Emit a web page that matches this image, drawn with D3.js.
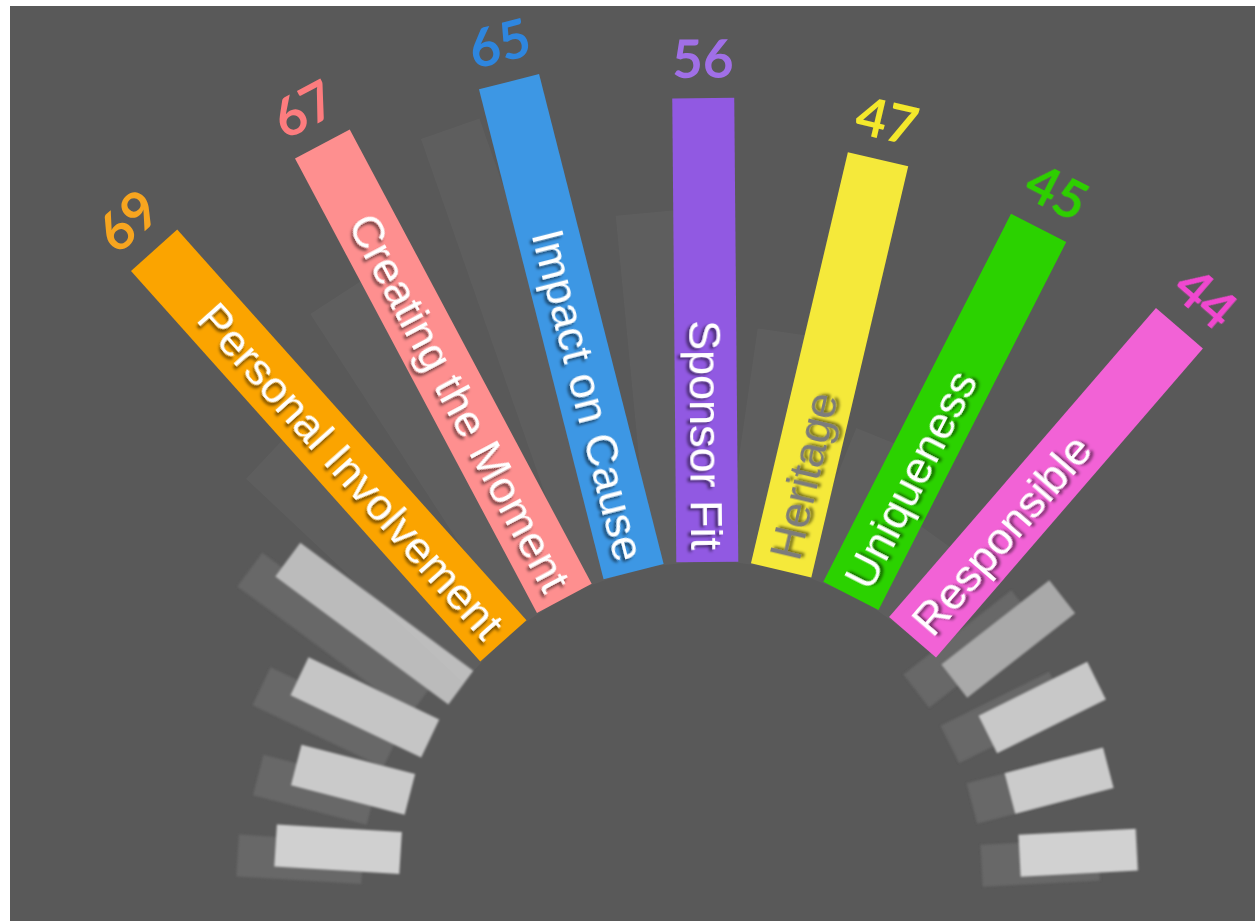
<!DOCTYPE html>
<html>
<head>
<meta charset="utf-8">
<script src="https://cdn.jsdelivr.net/npm/d3@7"></script>
<style>
  html, body { margin: 0; padding: 0; background: #ffffff; }
  svg { display: block; }
</style>
</head>
<body>
<svg id="chart" width="1255" height="923"></svg>
<script>
// ---- data ----
const categories = ["Personal Involvement", "Creating the Moment", "Impact on Cause", "Sponsor Fit", "Heritage", "Uniqueness", "Responsible"];
const values = [69, 67, 65, 56, 47, 45, 44];
const valueLabels = ["69", "67", "65", "56", "47", "45", "44"];
const barColors = ["#fba400", "#fe8f8f", "#3d97e4", "#9159e2", "#f5e93a", "#2bd200", "#f262d6"];
const numberColors = ["#f7a51f", "#fd7c7e", "#2e86df", "#a06fe7", "#f4e82b", "#2ecf00", "#f047cf"];
const labelColors = ["#ffffff", "#ffffff", "#ffffff", "#ffffff", "#7b7b7b", "#ffffff", "#ffffff"];
// faded trail of the same bars (earlier state)
const priorValues = [38, 48, 61, 45, 30, 20, 12];
// unlabeled grey bars at both ends of the arc
const otherLeftIds = ["L4", "L3", "L2", "L1"];
const otherLeftValues = [16, 15, 18.5, 27.5];
const otherLeftColors = ["#d0d0d0", "#cacaca", "#c5c5c5", "#bbbbbb"];
const otherRightIds = ["R1", "R2", "R3", "R4"];
const otherRightValues = [17.5, 15.5, 13, 15];
const otherRightColors = ["#a9a9a9", "#c8c8c8", "#cbcbcb", "#d1d1d1"];

// ---- layout ----
const svg = d3.select("#chart");
const W = 1255, H = 923;
const cx = 710, cy = 872;
const rInner = 310;
const barW = 62, greyW = 42;

svg.append("rect").attr("x", 10).attr("y", 6).attr("width", W - 10).attr("height", 915).attr("fill", "#595959");

const defs = svg.append("defs");
const f = defs.append("filter").attr("id", "shadow").attr("x", "-20%").attr("y", "-50%").attr("width", "140%").attr("height", "200%");
f.append("feDropShadow").attr("dx", 2).attr("dy", 3).attr("stdDeviation", 1.8).attr("flood-color", "#000").attr("flood-opacity", 0.55);
const fb = defs.append("filter").attr("id", "soft");
fb.append("feGaussianBlur").attr("stdDeviation", 0.8);

// scales
const angle = d3.scalePoint().domain(categories).range([-41.8, 40.8]);
const rValue = d3.scaleLinear().domain([0, 69]).range([515, 834]);
const rPrior = d3.scaleLinear().domain([0, 69]).range([rInner, 850]);
const angleLeft = d3.scalePoint().domain(otherLeftIds).range([-86.5, -53.5]);
const angleRight = d3.scalePoint().domain(otherRightIds).range([52, 87]);

const g = svg.append("g").attr("transform", `translate(${cx},${cy})`);

// grey bars: ghost copies then light bars
function greyBars(ids, vals, cols, aScale, cls) {
  const data = ids.map((id, i) => ({ id, v: vals[i], c: cols[i] }));
  const ghost = g.append("g").attr("transform", "translate(-38,10)").attr("filter", "url(#soft)");
  ghost.selectAll("rect." + cls).data(data).join("rect")
    .attr("class", cls)
    .attr("transform", d => `rotate(${aScale(d.id)})`)
    .attr("x", -greyW / 2).attr("width", greyW)
    .attr("y", d => -rPrior(d.v)).attr("height", d => rPrior(d.v) - rInner)
    .attr("fill", "#676767");
  const light = g.append("g").attr("filter", "url(#soft)");
  light.selectAll("rect." + cls).data(data).join("rect")
    .attr("class", cls)
    .attr("transform", d => `rotate(${aScale(d.id)})`)
    .attr("x", -greyW / 2).attr("width", greyW)
    .attr("y", d => -rPrior(d.v)).attr("height", d => rPrior(d.v) - rInner)
    .attr("fill", d => d.c);
}
greyBars(otherLeftIds, otherLeftValues, otherLeftColors, angleLeft, "gl");
greyBars(otherRightIds, otherRightValues, otherRightColors, angleRight, "gr");

const data = categories.map((c, i) => ({
  cat: c, v: values[i], label: valueLabels[i], prior: priorValues[i],
  bar: barColors[i], num: numberColors[i], txt: labelColors[i]
}));

// trail bars
g.append("g").selectAll("rect").data(data).join("rect")
  .attr("transform", d => `rotate(${angle(d.cat) - 5})`)
  .attr("x", -barW / 2).attr("width", barW)
  .attr("y", d => -rPrior(d.prior)).attr("height", d => rPrior(d.prior) - rInner)
  .attr("fill", "#ffffff").attr("fill-opacity", 0.035);

// main bars
const bars = g.append("g").selectAll("g").data(data).join("g")
  .attr("transform", d => `rotate(${angle(d.cat)})`);

bars.append("rect")
  .attr("x", -barW / 2).attr("width", barW)
  .attr("y", d => -rValue(d.v)).attr("height", d => rValue(d.v) - rInner)
  .attr("fill", d => d.bar);

// category text along bar
bars.append("text")
  .attr("transform", d => angle(d.cat) <= 0
    ? `translate(0,${-(rInner + 12)}) rotate(90)`
    : `translate(0,${-(rInner + 12)}) rotate(-90)`)
  .attr("text-anchor", d => angle(d.cat) <= 0 ? "end" : "start")
  .attr("dominant-baseline", "central")
  .attr("font-family", "'Liberation Sans', Arial, Helvetica, sans-serif")
  .attr("font-size", 45)
  .attr("fill", d => d.txt)
  .attr("filter", "url(#shadow)")
  .text(d => d.cat);

// value labels
bars.append("text")
  .attr("transform", d => `translate(0,${-(rValue(d.v) + 41)})`)
  .attr("text-anchor", "middle")
  .attr("dominant-baseline", "central")
  .attr("font-family", "Lato, 'Open Sans', sans-serif")
  .attr("font-weight", 700)
  .attr("font-size", 53)
  .attr("fill", d => d.num)
  .text(d => d.label);
</script>
</body>
</html>
